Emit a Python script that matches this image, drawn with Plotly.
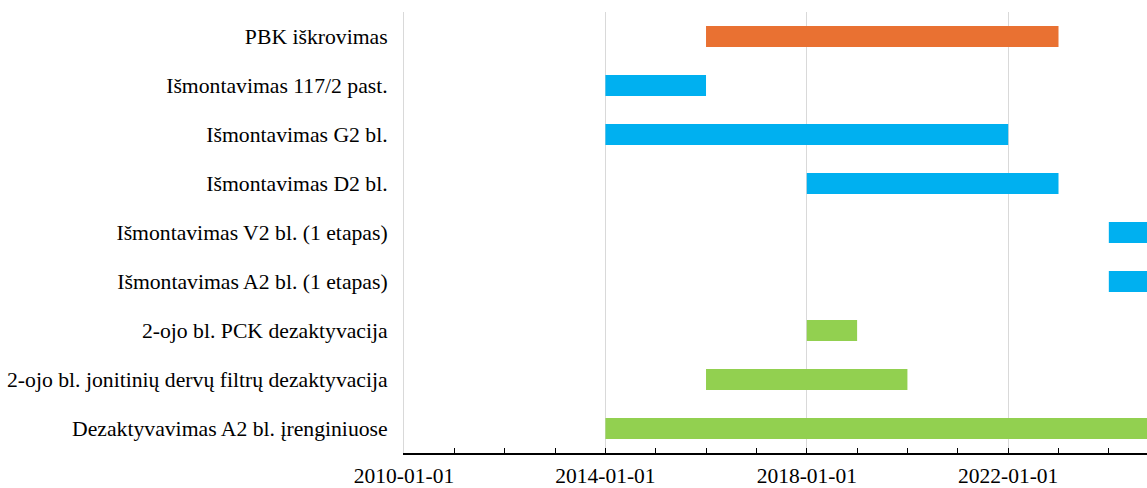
import plotly.graph_objects as go
import pandas as pd

tasks = [
    "PBK iškrovimas",
    "Išmontavimas 117/2 past.",
    "Išmontavimas G2 bl.",
    "Išmontavimas D2 bl.",
    "Išmontavimas V2 bl. (1 etapas)",
    "Išmontavimas A2 bl. (1 etapas)",
    "2-ojo bl. PCK dezaktyvacija",
    "2-ojo bl. jonitinių dervų filtrų dezaktyvacija",
    "Dezaktyvavimas A2 bl. įrenginiuose",
]
starts = ["2016-01-01", "2014-01-01", "2014-01-01", "2018-01-01", "2024-01-01",
          "2024-01-01", "2018-01-01", "2016-01-01", "2014-01-01"]
ends = ["2023-01-01", "2016-01-01", "2022-01-01", "2023-01-01", "2026-01-01",
        "2026-01-01", "2019-01-01", "2020-01-01", "2026-01-01"]
colors = ["#E97132", "#00B0F0", "#00B0F0", "#00B0F0", "#00B0F0",
          "#00B0F0", "#92D050", "#92D050", "#92D050"]

s = pd.to_datetime(starts)
e = pd.to_datetime(ends)
dur_ms = [(b - a).total_seconds() * 1000 for a, b in zip(s, e)]

fig = go.Figure(go.Bar(
    y=tasks, x=dur_ms, base=starts, orientation="h",
    marker=dict(color=colors, line=dict(width=0)),
    width=0.43, hoverinfo="skip",
))

font = "Liberation Serif, Times New Roman, serif"
fig.update_layout(
    width=1147, height=488,
    margin=dict(l=404, r=0, t=12, b=35),
    paper_bgcolor="white", plot_bgcolor="white",
    showlegend=False,
    font=dict(family=font, size=21, color="black"),
    xaxis=dict(
        type="date", range=["2010-01-01", "2024-10-04"],
        tick0="2010-01-01", dtick="M48", tickformat="%Y-%m-%d",
        showgrid=True, gridcolor="#D9D9D9", gridwidth=1,
        showline=True, linecolor="black", linewidth=2,
        ticks="inside", ticklen=5, tickcolor="black", tickwidth=1,
        minor=dict(dtick="M12", ticks="inside", ticklen=5, tickcolor="black",
                   showgrid=False),
        zeroline=False,
        tickfont=dict(family=font, size=21.5, color="black"),
        ticklabelstandoff=2,
    ),
    yaxis=dict(
        categoryorder="array", categoryarray=tasks[::-1],
        showgrid=False, showline=True, linecolor="#D9D9D9", linewidth=1,
        zeroline=False, ticks="",
        tickfont=dict(family=font, size=21.7, color="black"),
        ticklabelstandoff=11,
    ),
)

fig.write_html(
    "out.html",
    config={"displayModeBar": False},
    post_script="document.body.style.margin='0';document.body.style.overflow='hidden';",
)
